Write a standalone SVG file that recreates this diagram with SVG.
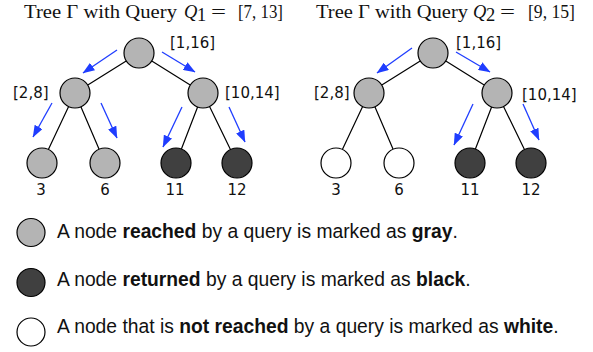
<svg xmlns="http://www.w3.org/2000/svg" width="593" height="352" viewBox="0 0 593 352">
<defs>
<style>
.g{fill:#b4b4b4;stroke:#000;stroke-width:1.2}
.k{fill:#404040;stroke:#000;stroke-width:1.2}
.w{fill:#fff;stroke:#000;stroke-width:1.2}
.e{stroke:#000;stroke-width:1.2;fill:none}
.a{stroke:#1f3dff;stroke-width:1.3;fill:none;marker-end:url(#ah)}
.lb{font-family:"DejaVu Sans",sans-serif;font-size:15px;fill:#111}
.tt{font-family:"Liberation Serif","Times New Roman",serif;font-size:18.5px;fill:#111}
.lg{font-family:"Liberation Sans",Arial,sans-serif;font-size:19.3px;fill:#111}
.b{font-weight:bold}
</style>
<marker id="ah" viewBox="0 0 12 9" refX="11.5" refY="4.5" markerWidth="12" markerHeight="9" orient="auto" markerUnits="userSpaceOnUse"><path d="M0,0 L12,4.5 L0,9 z" fill="#1f3dff"/></marker>
</defs>

<g id="title1">
<text class="tt" x="24" y="18" textLength="153" lengthAdjust="spacingAndGlyphs">Tree Γ with Query</text>
<text class="tt" x="184" y="18" font-style="italic">Q</text>
<text class="tt" x="197" y="21" font-size="12">1</text>
<text class="tt" x="211" y="18" textLength="15" lengthAdjust="spacingAndGlyphs">=</text>
<text class="tt" x="238" y="18" textLength="45" lengthAdjust="spacingAndGlyphs">[7, 13]</text>
</g>
<g id="title2">
<text class="tt" x="316" y="18" textLength="152" lengthAdjust="spacingAndGlyphs">Tree Γ with Query</text>
<text class="tt" x="473" y="18" font-style="italic">Q</text>
<text class="tt" x="486" y="21" font-size="12">2</text>
<text class="tt" x="500" y="18" textLength="15" lengthAdjust="spacingAndGlyphs">=</text>
<text class="tt" x="528" y="18" textLength="47" lengthAdjust="spacingAndGlyphs">[9, 15]</text>
</g>

<g id="connectors">
<path class="e" d="M139,53 L75,93 M139,53 L203,93 M75,93 L42,163 M75,93 L105,163 M203,93 L176,163 M203,93 L237,163"/>
<path class="e" d="M433,53 L369,93 M433,53 L497,93 M369,93 L336,163 M369,93 L399,163 M497,93 L470,163 M497,93 L531,163"/>
<path class="a" d="M117,50 L83,73"/>
<path class="a" d="M162,52 L195,72"/>
<path class="a" d="M52,103 L33,137"/>
<path class="a" d="M101,103 L117,138"/>
<path class="a" d="M182,107 L163,147"/>
<path class="a" d="M229,107 L245,142"/>
<path class="a" d="M412,48 L377,73"/>
<path class="a" d="M456,52 L490,72"/>
<path class="a" d="M473,104 L454,145"/>
<path class="a" d="M523,104 L539,140"/>
</g>

<g id="t1-root"><circle class="g" cx="139" cy="53" r="15"/><text class="lb" x="170" y="48">[1,16]</text></g>
<g id="t1-left"><circle class="g" cx="75" cy="93" r="15"/><text class="lb" x="13" y="98">[2,8]</text></g>
<g id="t1-right"><circle class="g" cx="203" cy="93" r="15"/><text class="lb" x="225" y="98">[10,14]</text></g>
<g id="t1-3"><circle class="g" cx="42" cy="163" r="15"/><text class="lb" x="41" y="195" text-anchor="middle">3</text></g>
<g id="t1-6"><circle class="g" cx="105" cy="163" r="15"/><text class="lb" x="105" y="195" text-anchor="middle">6</text></g>
<g id="t1-11"><circle class="k" cx="176" cy="163" r="15"/><text class="lb" x="175" y="195" text-anchor="middle">11</text></g>
<g id="t1-12"><circle class="k" cx="237" cy="163" r="15"/><text class="lb" x="237" y="195" text-anchor="middle">12</text></g>

<g id="t2-root"><circle class="g" cx="433" cy="53" r="15"/><text class="lb" x="456" y="48">[1,16]</text></g>
<g id="t2-left"><circle class="g" cx="369" cy="93" r="15"/><text class="lb" x="314" y="98">[2,8]</text></g>
<g id="t2-right"><circle class="g" cx="497" cy="93" r="15"/><text class="lb" x="522" y="100">[10,14]</text></g>
<g id="t2-3"><circle class="w" cx="336" cy="163" r="15"/><text class="lb" x="336" y="195" text-anchor="middle">3</text></g>
<g id="t2-6"><circle class="w" cx="399" cy="163" r="15"/><text class="lb" x="399" y="195" text-anchor="middle">6</text></g>
<g id="t2-11"><circle class="k" cx="470" cy="163" r="15"/><text class="lb" x="470" y="195" text-anchor="middle">11</text></g>
<g id="t2-12"><circle class="k" cx="531" cy="163" r="15"/><text class="lb" x="531" y="195" text-anchor="middle">12</text></g>

<g id="legend-gray"><circle class="g" cx="31" cy="232.5" r="14"/><text class="lg" x="57" y="238">A node <tspan class="b">reached</tspan> by a query is marked as <tspan class="b">gray</tspan>.</text></g>
<g id="legend-black"><circle class="k" cx="31" cy="282.5" r="14"/><text class="lg" x="57" y="286">A node <tspan class="b">returned</tspan> by a query is marked as <tspan class="b">black</tspan>.</text></g>
<g id="legend-white"><circle class="w" cx="31" cy="332" r="14"/><text class="lg" x="57" y="333">A node that is <tspan class="b">not reached</tspan> by a query is marked as <tspan class="b">white</tspan>.</text></g>
</svg>
